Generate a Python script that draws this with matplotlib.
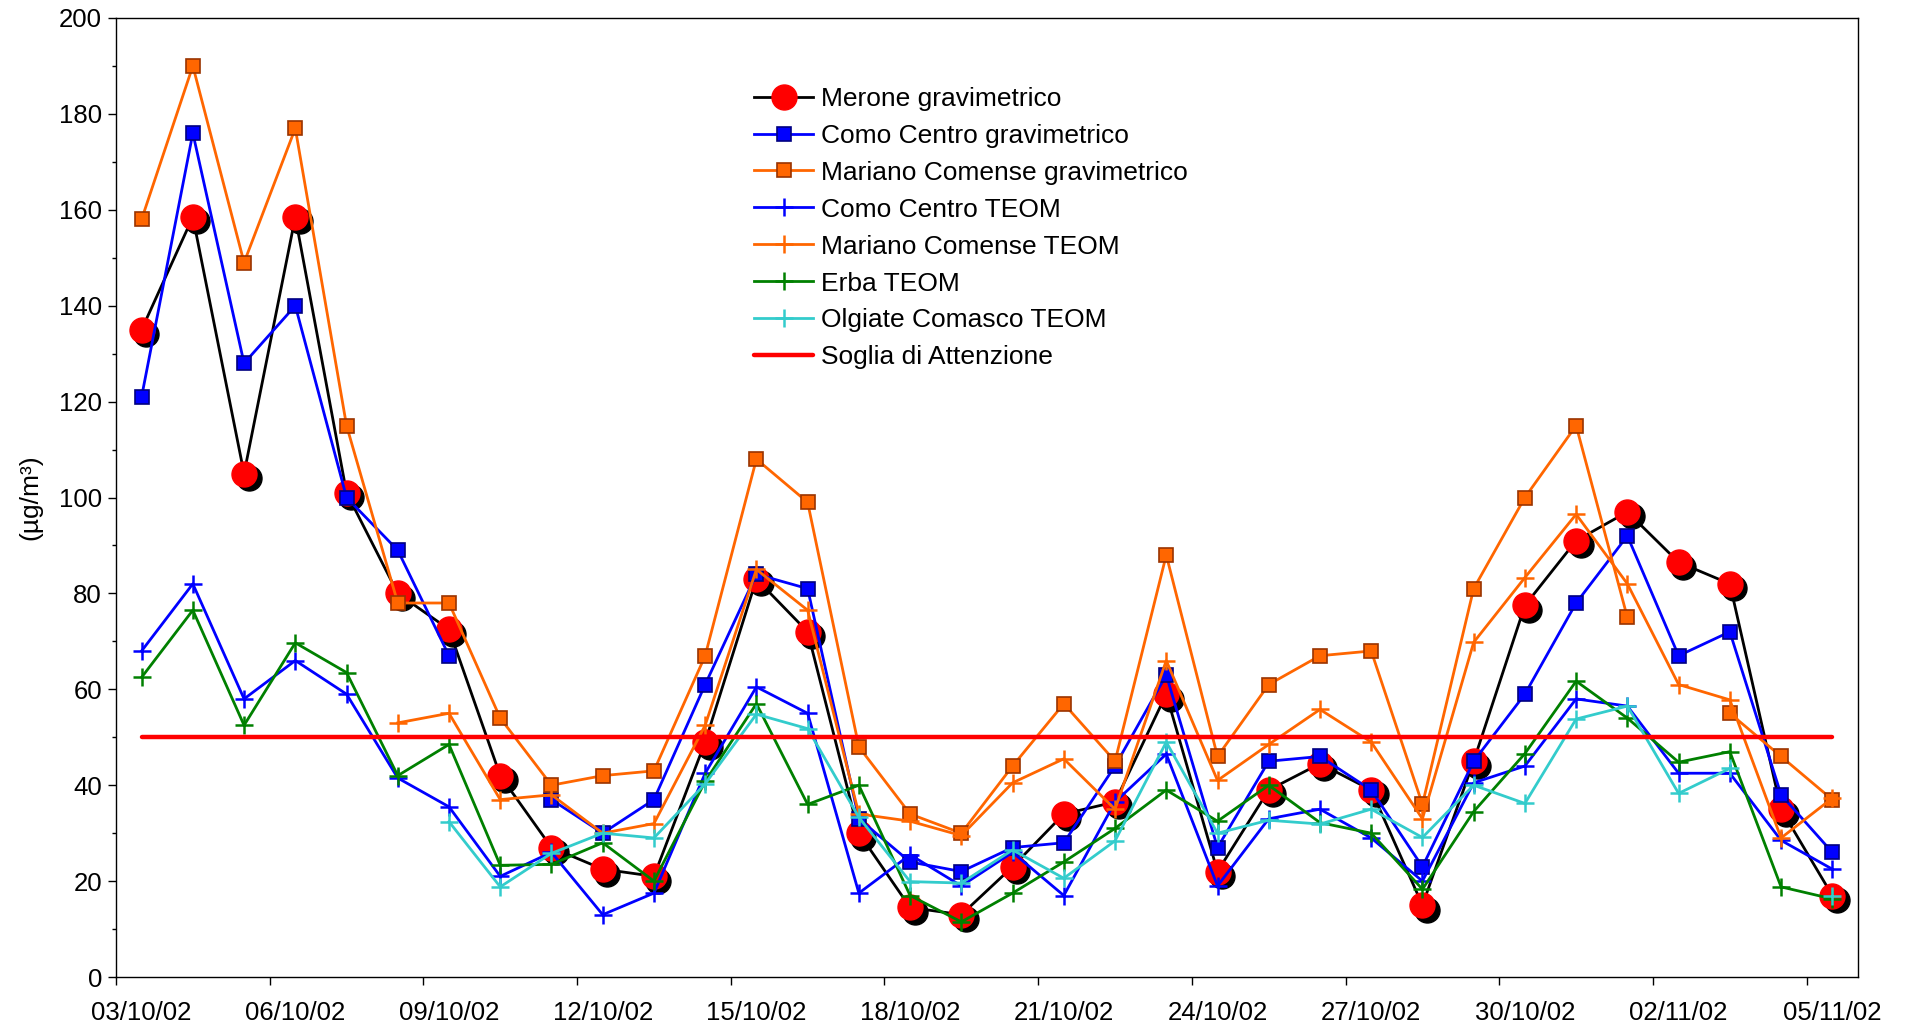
import numpy as np
import pandas as pd
import matplotlib
matplotlib.use('Agg')
import matplotlib.pyplot as plt
import matplotlib.transforms as mtransforms
from matplotlib.ticker import MultipleLocator, FixedLocator, NullFormatter

plt.rcParams['font.family'] = ['Liberation Sans', 'DejaVu Sans']

nan = np.nan

# giorni di misura, 03/10/02 - 05/11/02
dates = pd.date_range('2002-10-03', '2002-11-05', freq='D')
labels = [d.strftime('%d/%m/%y') for d in dates]

merone_grav = [135, 158.5, 105, 158.5, 101, 80, 72.5, 42, 27, 22.5, 21, 49, 83, 72, 30, 14.5, 13,
               23, 34, 36.5, 59, 22, 39, 44.5, 39, 15, 45, 77.5, 91, 97, 86.5, 82, 35, 17]
como_grav = [121, 176, 128, 140, 100, 89, 67, nan, 37, 30, 37, 61, 84, 81, 33, 24, 22,
             27, 28, 44, 63, 27, 45, 46, 39, 23, 45, 59, 78, 92, 67, 72, 38, 26]
mariano_grav = [158, 190, 149, 177, 115, 78, 78, 54, 40, 42, 43, 67, 108, 99, 48, 34, 30,
                44, 57, 45, 88, 46, 61, 67, 68, 36, 81, 100, 115, 75, nan, 55, 46, 37]
como_teom = [68, 82, 58, 66, 59, 41.5, 35.5, 21, 26, 13, 17.5, 42.5, 60.5, 55, 17.5, 25.5, 19,
             26, 17, 36.5, 46.5, 19, 33, 35, 29, 20, 40.5, 44, 58, 56.5, 42.5, 42.5, 28.5, 22.5]
mariano_teom = [nan, nan, nan, nan, nan, 53, 55, 37, 38, 30, 32, 52.5, 85, 76.5, 34, 32.5, 29.5,
                40.5, 45.5, 35, 66, 41, 48.5, 55.8, 49, 33, 69.8, 83.3, 96.5, 82, 61, 57.8, 29, 37.3]
erba_teom = [62.5, 76.5, 52.5, 69.7, 63.5, 42, 48.5, 23.3, 23.5, 28, 20, 40.8, 57, 36, 40, 17, 11.5,
             17.5, 24, 31, 39, 32.5, 40, 32.2, 30, 18.3, 34.5, 46.6, 61.7, 54, 44.8, 47, 18.8, 16.3]
olgiate_teom = [nan, nan, nan, nan, nan, nan, 32.4, 18.8, 25.8, 30, 29, 40.3, 54.8, 51.8, 33.3, 19.9, 19.6,
                26.5, 20.6, 28.4, 49, 30, 32.7, 31.9, 35, 29.1, 40, 36.2, 53.8, 56.5, 38.3, 43.5, nan, 16.8]
soglia = [50] * len(dates)

x = np.arange(len(dates))

fig = plt.figure(figsize=(19.14, 10.34), dpi=100)
ax = fig.add_axes([0.0606, 0.0551, 0.9101, 0.9275])

# ombra dei marker di Merone
shadow = mtransforms.offset_copy(ax.transData, fig=fig, x=3.2, y=-3.2, units='points')
ax.plot(x, merone_grav, ls='none', marker='o', ms=18, mfc='black', mec='black', transform=shadow)

ax.plot(x, merone_grav, color='black', lw=2, marker='o', ms=18, mfc='#FF0000', mec='#FF0000',
        label='Merone gravimetrico')
ax.plot(x, como_grav, color='#0000FF', lw=2, marker='s', ms=10.5, mfc='#0000FF', mec='#000080', mew=1.2,
        label='Como Centro gravimetrico')
ax.plot(x, mariano_grav, color='#FF6600', lw=2, marker='s', ms=10.5, mfc='#FF6600', mec='#993300', mew=1.2,
        label='Mariano Comense gravimetrico')
ax.plot(x, como_teom, color='#0000FF', lw=2, marker='+', ms=13, mew=1.8, label='Como Centro TEOM')
ax.plot(x, mariano_teom, color='#FF6600', lw=2, marker='+', ms=13, mew=1.8, label='Mariano Comense TEOM')
ax.plot(x, erba_teom, color='#008000', lw=2, marker='+', ms=13, mew=1.8, label='Erba TEOM')
ax.plot(x, olgiate_teom, color='#33CCCC', lw=2, marker='+', ms=13, mew=1.8, label='Olgiate Comasco TEOM')
ax.plot(x, soglia, color='#FF0000', lw=3.2, solid_capstyle='round', label='Soglia di Attenzione')

ax.set_xlim(-0.5, len(dates) - 0.5)
ax.set_ylim(0, 200)

# etichette ogni 3 giorni, tacche sui bordi delle categorie
ax.xaxis.set_major_locator(FixedLocator(x[::3]))
ax.set_xticklabels(labels[::3])
ax.xaxis.set_minor_locator(FixedLocator(np.arange(-0.5, len(dates) - 0.5, 3)))
ax.xaxis.set_minor_formatter(NullFormatter())
ax.tick_params(axis='x', which='major', length=0, pad=17, labelsize=18.5)
ax.tick_params(axis='x', which='minor', length=6, width=1, direction='out')

ax.yaxis.set_major_locator(MultipleLocator(20))
ax.yaxis.set_minor_locator(MultipleLocator(10))
ax.tick_params(axis='y', which='major', length=6, width=1, direction='out', pad=4, labelsize=18.5)
ax.tick_params(axis='y', which='minor', length=3, width=1, direction='out')

for s in ax.spines.values():
    s.set_linewidth(1.0)

ax.set_ylabel('(µg/m³)', fontsize=19, labelpad=12)

ax.legend(loc='upper left', bbox_to_anchor=(0.394, 0.916), bbox_transform=fig.transFigure,
          frameon=False, fontsize=19, handlelength=2.25, handletextpad=0.28, labelspacing=0.49,
          borderpad=0, borderaxespad=0, numpoints=1)

fig.savefig('out.png', dpi=100)
